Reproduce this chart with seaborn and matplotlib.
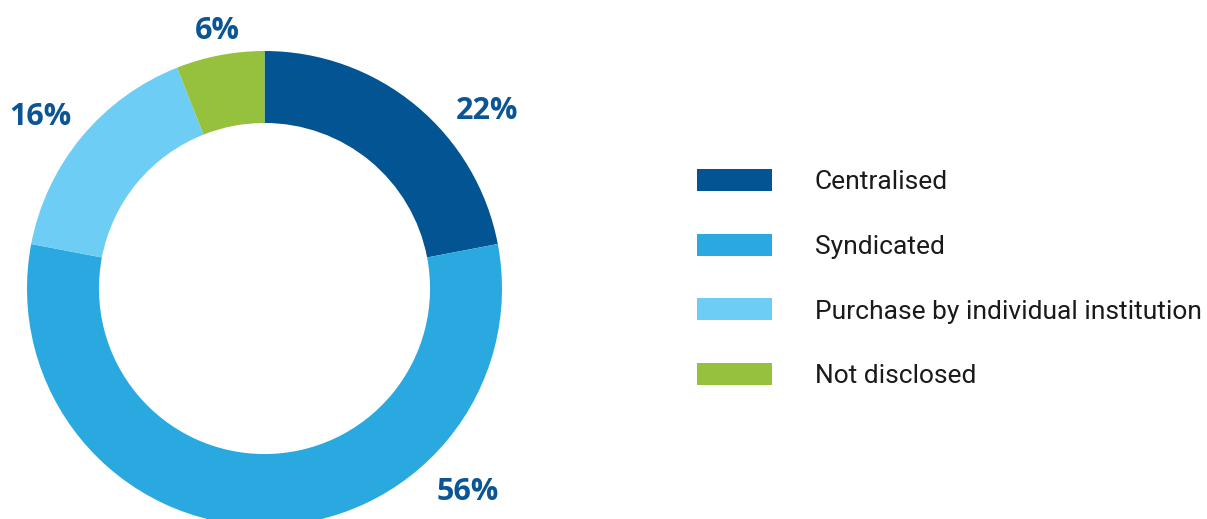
import matplotlib
matplotlib.use("Agg")
import matplotlib.pyplot as plt
import seaborn as sns
import numpy as np

categories = ["Centralised", "Syndicated", "Purchase by individual institution", "Not disclosed"]
shares = [22, 56, 16, 6]
pct_labels = ["22%", "56%", "16%", "6%"]

colors = ["#025492", "#29a9e0", "#6dcdf4", "#95c13d"]
label_color = "#0b5595"
# label placement (angle in degrees, distance in radii) -- layout only
label_polar = [(38.5, 1.20), (-45.0, 1.21), (142.6, 1.19), (100.3, 1.10)]

sns.set_theme(style="white")
plt.rcParams["font.family"] = ["Roboto", "DejaVu Sans"]

W, H = 1207, 519
fig = plt.figure(figsize=(W / 100, H / 100), dpi=100)
ax = fig.add_axes([0, 0, 1, 1])

cx, cy, R = 264.5, H - 288.5, 237.5
wedges, _ = ax.pie(shares, colors=colors, startangle=90, counterclock=False,
                   center=(cx, cy), radius=R,
                   wedgeprops=dict(width=R * 0.303, linewidth=0))
ax.set_xlim(0, W)
ax.set_ylim(0, H)
ax.set_aspect("equal")
ax.axis("off")

for txt, (ang, dist) in zip(pct_labels, label_polar):
    a = np.deg2rad(ang)
    ax.text(cx + dist * R * np.cos(a), cy + dist * R * np.sin(a), txt,
            ha="center", va="center", fontsize=22, fontweight="bold",
            color=label_color, family=["Open Sans", "DejaVu Sans"])

fs = 19
fpx = fs * 100 / 72
leg = ax.legend(wedges, categories, loc="upper left",
                bbox_to_anchor=(697 / W, 1 - 169 / H), bbox_transform=fig.transFigure,
                frameon=False, fontsize=fs, handlelength=75 / fpx, handleheight=24 / fpx,
                handletextpad=43 / fpx, labelspacing=1.5, borderpad=0, borderaxespad=0,
                labelcolor="#1a1a1a")

fig.savefig("out.png", dpi=100)
